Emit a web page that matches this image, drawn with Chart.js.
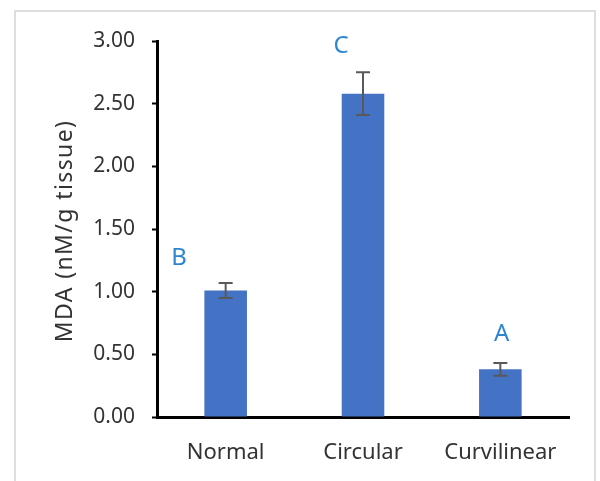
<!DOCTYPE html>
<html>
<head>
<meta charset="utf-8">
<script src="https://cdn.jsdelivr.net/npm/chart.js@4"></script>
<style>
  body { margin:0; background:#fff; }
  #wrap { position:relative; width:600px; height:481px; overflow:hidden; }
  #frame { position:absolute; left:14px; top:10px; width:582px; height:600px; box-sizing:border-box;
           border:2px solid #dedede; }
  #chart { position:absolute; left:0; top:0; }
</style>
</head>
<body>
<div id="wrap">
  <div id="frame"></div>
  <canvas id="chart" width="600" height="481"></canvas>
</div>
<script>
let categories = ["Normal","Circular","Curvilinear"];
let mdaValues = [1.01, 2.58, 0.38];
let mdaErrors = [0.06, 0.17, 0.05];
let groupLetters = ["B","C","A"];
let letterY = [1.27, 2.96, 0.66];
let letterShift = [-0.34, -0.16, 0.01];
let yTicks = [0, 0.5, 1, 1.5, 2, 2.5, 3];
let yTitle = "MDA (nM/g tissue)";

// error bars, letters, y title
let extras = {
  id:"extras",
  afterDatasetsDraw(chart){
    let ctx = chart.ctx;
    let x = chart.scales.x, y = chart.scales.y;
    ctx.save();
    ctx.strokeStyle = "#595959";
    ctx.lineWidth = 2;
    mdaValues.forEach((v,i)=>{
      let px = x.getPixelForValue(i);
      let top = y.getPixelForValue(v + mdaErrors[i]);
      let bot = y.getPixelForValue(v - mdaErrors[i]);
      ctx.beginPath();
      ctx.moveTo(px, top); ctx.lineTo(px, bot);
      ctx.moveTo(px-7, top); ctx.lineTo(px+7, top);
      ctx.moveTo(px-7, bot); ctx.lineTo(px+7, bot);
      ctx.stroke();
    });
    ctx.fillStyle = "#2E86D1";
    ctx.font = "24px 'Noto Sans'";
    ctx.textAlign = "center";
    ctx.textBaseline = "middle";
    groupLetters.forEach((t,i)=>{
      ctx.fillText(t, x.getPixelForValue(i + letterShift[i]), y.getPixelForValue(letterY[i]));
    });

    // axis title, slightly letter-spaced like the original
    let cy = (y.top + y.bottom)/2 + 2;
    ctx.translate(72, cy);
    ctx.rotate(-Math.PI/2);
    ctx.fillStyle = "#333";
    ctx.font = "23px 'Noto Sans'";
    ctx.letterSpacing = "1.4px";
    ctx.textAlign = "center";
    ctx.textBaseline = "alphabetic";
    ctx.fillText(yTitle, 0, 0);
    ctx.restore();
  }
};

new Chart(document.getElementById("chart"),{
  type:"bar",
  data:{
    labels:categories,
    datasets:[{data:mdaValues, backgroundColor:"#4472C4", categoryPercentage:1, barPercentage:0.31}]
  },
  options:{
    responsive:false,
    animation:false,
    layout:{padding:{top:41, right:31, bottom:0, left:0}},
    plugins:{legend:{display:false}, tooltip:{enabled:false}},
    scales:{
      x:{
        grid:{display:false, drawTicks:false},
        border:{display:true, color:"#000", width:3},
        ticks:{color:"#333", padding:23, font:{family:"Noto Sans", size:22}},
        afterFit:(s)=>{ s.height = 64; }
      },
      y:{
        min:0, max:3,
        afterBuildTicks:(s)=>{ s.ticks = yTicks.map(v=>({value:v})); },
        grid:{drawOnChartArea:false, drawTicks:true, tickLength:5, tickColor:"#000", tickWidth:2},
        border:{display:true, color:"#000", width:3},
        ticks:{color:"#333", padding:17, font:{family:"Noto Sans", size:21}, callback:(v)=>v.toFixed(2)},
        afterFit:(s)=>{ s.width = 157; }
      }
    }
  },
  plugins:[extras]
});
</script>
</body>
</html>
